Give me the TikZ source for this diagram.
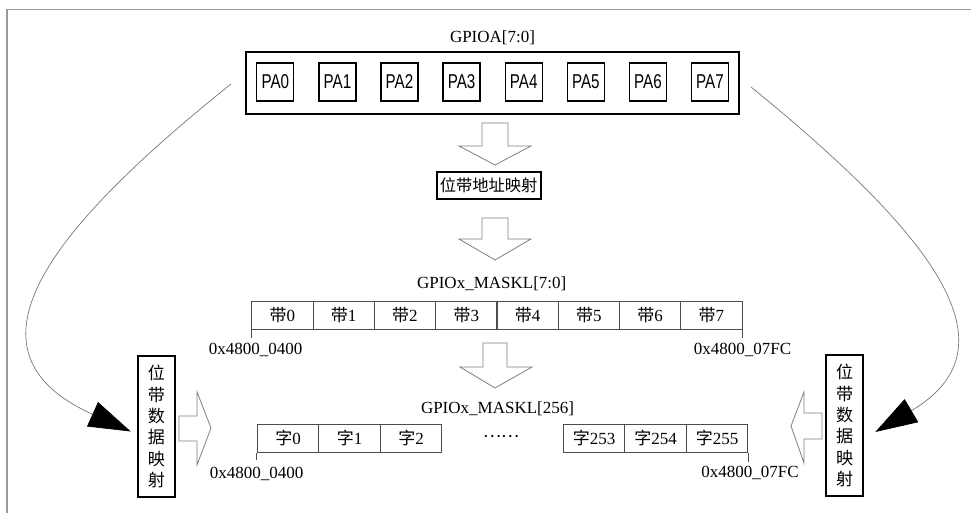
\documentclass[tikz,border=0pt]{standalone}
\usepackage{fontspec}
\setmainfont{Liberation Serif}
\newfontfamily\cjk{Noto Sans CJK SC}
\newfontfamily\narrowsans[FakeStretch=0.76]{Liberation Sans}
\usetikzlibrary{arrows.meta}
\begin{document}
\begin{tikzpicture}[x=0.75pt,y=-0.75pt,
  frame/.style={draw=black!40,line width=1.2pt},
  bigbox/.style={draw,line width=1.5pt,minimum width=369.75pt,minimum height=46.5pt,inner sep=0pt},
  pabox/.style={draw,line width=1pt,minimum width=27.75pt,minimum height=28.5pt,inner sep=0pt,font=\narrowsans\fontsize{15}{16}\selectfont},
  title/.style={inner sep=0pt,font=\fontsize{12.75}{14}\selectfont},
  addr/.style={inner sep=0pt,font=\fontsize{12.75}{14}\selectfont},
  cell/.style={draw=black!70,line width=0.6pt,minimum width=46pt,minimum height=21pt,inner sep=0pt,font=\fontsize{12.75}{14}\selectfont},
  wcell/.style={draw=black!70,line width=0.6pt,minimum width=46.1pt,minimum height=21.2pt,inner sep=0pt,font=\fontsize{12.75}{14}\selectfont},
  tick/.style={draw=black!70,line width=0.6pt},
  mapbox/.style={draw,line width=1.4pt,minimum width=78pt,minimum height=20.5pt,inner sep=0pt,font=\cjk\fontsize{12.2}{14}\selectfont},
  vbox/.style={draw,line width=1.4pt,minimum width=28pt,minimum height=106.2pt,inner sep=0pt,align=center,font=\cjk\fontsize{12.8}{16}\selectfont},
  hollow/.style={draw=black!50,line width=0.6pt,line join=miter},
  curve/.style={draw=black!55,line width=0.5pt,-{Triangle[length=31.5pt,width=20pt,color=black]}}
]
\useasboundingbox (0,0) rectangle (971,513);
\fill[white] (0,0) rectangle (971,513);
\draw[frame] (7,513) -- (7,9.5) -- (971,9.5);

% GPIOA
\node[title] (t1) at (492.5,37.5) {GPIOA[7:0]};
\node[bigbox] (gpioa) at (492.5,83) {};
\foreach \i in {0,...,7} \node[pabox] (pa\i) at ({275.3+62.1*\i},82) {PA\i};

% arrow 1
\draw[hollow] (482,123) -- (508,123) -- (508,146) -- (531,146) -- (495,165) -- (459,146) -- (482,146) -- cycle;
\node[mapbox] (map) at (488.7,185.3) {位带地址映射};
% arrow 2
\draw[hollow] (482,218) -- (508,218) -- (508,239) -- (531,239) -- (495,260) -- (459,239) -- (482,239) -- cycle;

% band row
\node[title] (t2) at (491.7,283.3) {GPIOx\_MASKL[7:0]};
\foreach \i in {0,...,7} \node[cell] (b\i) at ({282.35+61.3*\i},315) {{\cjk 带}\i};
\draw[tick] (b0.south west) -- ++(0,9);
\draw[tick] (b7.south east) -- ++(0,9);
\node[addr] (a1) at (255.5,350) {0x4800\_0400};
\node[addr] (a2) at (742.5,350) {0x4800\_07FC};

% arrow 3
\draw[hollow] (483,343) -- (507,343) -- (507,367) -- (532,367) -- (495,388) -- (460,367) -- (483,367) -- cycle;

% word row
\node[title] (t3) at (497.5,408.3) {GPIOx\_MASKL[256]};
\node[wcell] (w0) at (288,438.2) {{\cjk 字}0};
\node[wcell] (w1) at (349.5,438.2) {{\cjk 字}1};
\node[wcell] (w2) at (411,438.2) {{\cjk 字}2};
\node[inner sep=0pt,font=\cjk\fontsize{12.75}{14}\selectfont] (dots) at (501,437) {……};
\node[wcell] (w253) at (594,438.2) {{\cjk 字}253};
\node[wcell] (w254) at (655.5,438.2) {{\cjk 字}254};
\node[wcell] (w255) at (717,438.2) {{\cjk 字}255};
\draw[tick] (w0.south west) -- ++(0,7.5);
\draw[tick] (w255.south east) -- ++(0,9.5);
\node[addr] (a3) at (256.7,474) {0x4800\_0400};
\node[addr] (a4) at (750,473) {0x4800\_07FC};

% side boxes
\node[vbox] (lbox) at (156.4,426.5) {位\\带\\数\\据\\映\\射};
\node[vbox] (rbox) at (844.7,425.5) {位\\带\\数\\据\\映\\射};
\draw[hollow] (179,416) -- (197,416) -- (197,392) -- (211,428) -- (197,465) -- (197,441) -- (179,441) -- cycle;
\draw[hollow] (822,413) -- (804,413) -- (804,392) -- (791,426) -- (804,463) -- (804,439) -- (822,439) -- cycle;

% curved arrows
\draw[curve] ([shift={(-14,1)}]gpioa.west) .. controls (50,229) and (-48,351) .. ([shift={(-6,5)}]lbox.west);
\draw[curve] ([shift={(11,4)}]gpioa.east) .. controls (929,232) and (1021,346) .. ([shift={(11,6.5)}]rbox.east);
\end{tikzpicture}
\end{document}
